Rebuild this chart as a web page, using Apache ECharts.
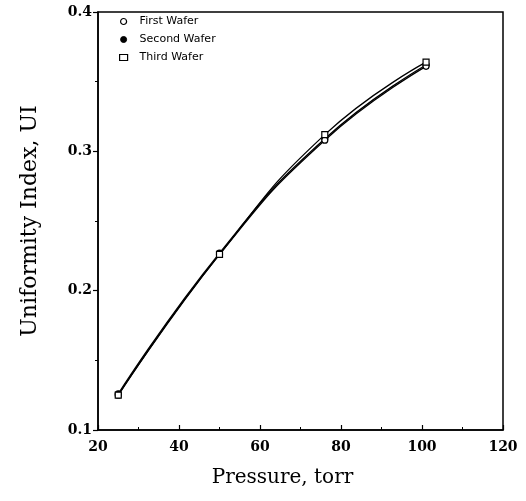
<!DOCTYPE html>
<html><head><meta charset="utf-8">
<script src="https://cdn.jsdelivr.net/npm/echarts@6/dist/echarts.min.js"></script>
<style>html,body{margin:0;padding:0;background:#fff}#c{width:526px;height:501px}</style>
</head><body><div id="c"></div>
<script>
const pressure = [25, 50, 76, 101];
const firstWafer = [0.125, 0.226, 0.308, 0.361];
const secondWafer = [0.126, 0.227, 0.309, 0.362];
const thirdWafer = [0.125, 0.226, 0.312, 0.364];
const seriesNames = ['First Wafer', 'Second Wafer', 'Third Wafer'];
const xTicks = [20, 40, 60, 80, 100, 120];
const yTicks = [0.1, 0.2, 0.3, 0.4];

const chart = echarts.init(document.getElementById('c'));
const zip = (ys) => pressure.map((x, i) => [x, ys[i]]);
const serif = 'DejaVu Serif, serif';
function mk(name, ys, symbol, fill, z) {
  return {
    name, type: 'line', data: zip(ys), smooth: true,
    symbol, symbolSize: 6, showSymbol: true,
    lineStyle: {color: '#000', width: 1.3},
    itemStyle: {color: fill, borderColor: '#000', borderWidth: 1.2},
    z
  };
}
chart.setOption({
  animation: false,
  backgroundColor: '#fff',
  grid: {left: 98, right: 23, top: 12, bottom: 71, show: true, borderColor: '#000', borderWidth: 1.5, backgroundColor: 'transparent'},
  legend: {
    orient: 'vertical', left: 114, top: 11, itemGap: 7,
    itemWidth: 8, itemHeight: 6,
    textStyle: {fontFamily: 'DejaVu Sans, sans-serif', fontSize: 11, color: '#000', padding: [0, 0, 0, 7]},
    data: [
      {name: seriesNames[0], icon: 'circle', itemStyle: {color: '#fff', borderColor: '#000', borderWidth: 1.2}},
      {name: seriesNames[1], icon: 'circle', itemStyle: {color: '#000', borderColor: '#000', borderWidth: 1}},
      {name: seriesNames[2], icon: 'rect', itemStyle: {color: '#fff', borderColor: '#000', borderWidth: 1.2}}
    ]
  },
  xAxis: {
    type: 'value', min: xTicks[0], max: xTicks[xTicks.length - 1], interval: 20,
    name: 'Pressure, torr', nameLocation: 'middle', nameGap: 38,
    nameTextStyle: {fontFamily: serif, fontSize: 20, color: '#000', padding: [0, 36, 0, 0]},
    axisLine: {lineStyle: {color: '#000', width: 1.5}},
    axisTick: {inside: true, length: 5, lineStyle: {color: '#000', width: 1.2}},
    minorTick: {show: true, splitNumber: 2, length: 3, lineStyle: {color: '#000'}},
    splitLine: {show: false},
    axisLabel: {fontFamily: serif, fontWeight: 'bold', fontSize: 14, color: '#000', margin: 10}
  },
  yAxis: {
    type: 'value', min: yTicks[0], max: yTicks[yTicks.length - 1], interval: 0.1,
    name: 'Uniformity Index, UI', nameLocation: 'middle', nameGap: 57,
    nameTextStyle: {fontFamily: serif, fontSize: 22, color: '#000'},
    axisLine: {lineStyle: {color: '#000', width: 1.5}},
    axisTick: {inside: false, length: 5, lineStyle: {color: '#000', width: 1.2}},
    minorTick: {show: true, splitNumber: 2, length: 3, lineStyle: {color: '#000'}},
    splitLine: {show: false},
    axisLabel: {fontFamily: serif, fontWeight: 'bold', fontSize: 14, color: '#000', margin: 6, formatter: v => v.toFixed(1)}
  },
  series: [
    mk(seriesNames[1], secondWafer, 'circle', '#000', 2),
    mk(seriesNames[0], firstWafer, 'circle', '#fff', 3),
    mk(seriesNames[2], thirdWafer, 'rect', '#fff', 4)
  ]
});
</script></body></html>
